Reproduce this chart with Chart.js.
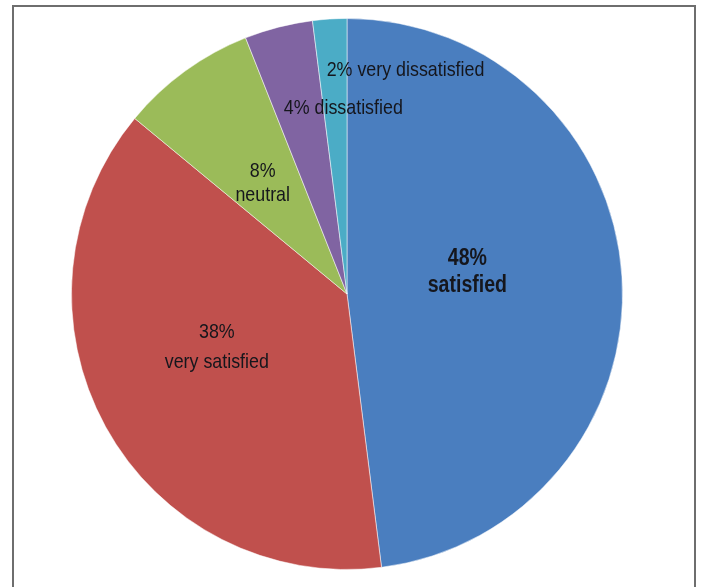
<!DOCTYPE html>
<html>
<head>
<meta charset="utf-8">
<script src="https://cdn.jsdelivr.net/npm/chart.js@4/dist/chart.umd.min.js"></script>
<style>
  html, body { margin: 0; padding: 0; background: #fff; }
  #wrap { width: 701px; height: 587px; position: relative; }
</style>
</head>
<body>
<div id="wrap"><canvas id="satisfaccion"></canvas></div>
<script>
const categorias = ['satisfied', 'very satisfied', 'neutral', 'dissatisfied', 'very dissatisfied'];
const porcentajes = [48, 38, 8, 4, 2];
const colores = ['#4a7ebf', '#c0504d', '#9bbb59', '#8064a2', '#4bacc6'];

const fuente = '"Liberation Sans", Arial, sans-serif';
const estrecho = 0.85; // la fuente original es condensada

// donde va cada etiqueta: angulo (grados desde arriba, sentido horario) y fraccion del radio
const etiquetas = [
  { ang: 79.7, r: 0.444, align: 'center', bold: true, size: 23, lh: 27, lines: 2 },
  { ang: 247.9, r: 0.51, align: 'center', bold: false, size: 21, lh: 30, lines: 2 },
  { ang: 322.7, r: 0.505, align: 'center', bold: false, size: 21, lh: 24, lines: 2 },
  { ang: 341.25, r: 0.714, align: 'left', bold: false, size: 21, lines: 1 },
  { ang: 354.8, r: 0.815, align: 'left', bold: false, size: 21, lines: 1 }
];

const marco = {
  id: 'marco',
  beforeDraw(chart) {
    const ctx = chart.ctx;
    ctx.save();
    ctx.strokeStyle = '#6e6e6e';
    ctx.lineWidth = 2;
    ctx.beginPath();
    ctx.moveTo(13, 587);
    ctx.lineTo(13, 6);
    ctx.lineTo(695, 6);
    ctx.lineTo(695, 587);
    ctx.stroke();
    ctx.restore();
  }
};

const textos = {
  id: 'textos',
  afterDatasetsDraw(chart) {
    const ctx = chart.ctx;
    const arcs = chart.getDatasetMeta(0).data;
    arcs.forEach((arc, i) => {
      const e = etiquetas[i];
      const a = e.ang * Math.PI / 180;
      const x = arc.x + Math.sin(a) * arc.outerRadius * e.r;
      const y = arc.y - Math.cos(a) * arc.outerRadius * e.r;
      ctx.save();
      ctx.translate(x, y);
      ctx.scale(estrecho, 1);
      ctx.fillStyle = '#15161c';
      ctx.textBaseline = 'middle';
      ctx.font = (e.bold ? 'bold ' : '') + e.size + 'px ' + fuente;
      ctx.textAlign = e.align;
      const pct = porcentajes[i] + '%';
      if (e.lines === 2) {
        ctx.fillText(pct, 0, -e.lh / 2);
        ctx.fillText(categorias[i], 0, e.lh / 2);
      } else {
        ctx.fillText(pct + ' ' + categorias[i], 0, 0);
      }
      ctx.restore();
    });
  }
};

const ctx = document.getElementById('satisfaccion');
new Chart(ctx, {
  type: 'pie',
  data: {
    labels: categorias,
    datasets: [{
      data: porcentajes,
      backgroundColor: colores,
      borderColor: 'rgba(255,255,255,0.5)',
      borderWidth: 1
    }]
  },
  options: {
    responsive: true,
    maintainAspectRatio: false,
    animation: false,
    layout: { padding: { top: 18, bottom: 17, left: 71, right: 78 } },
    plugins: {
      legend: { display: false },
      tooltip: { enabled: false },
      title: { display: false }
    }
  },
  plugins: [marco, textos]
});
</script>
</body>
</html>
